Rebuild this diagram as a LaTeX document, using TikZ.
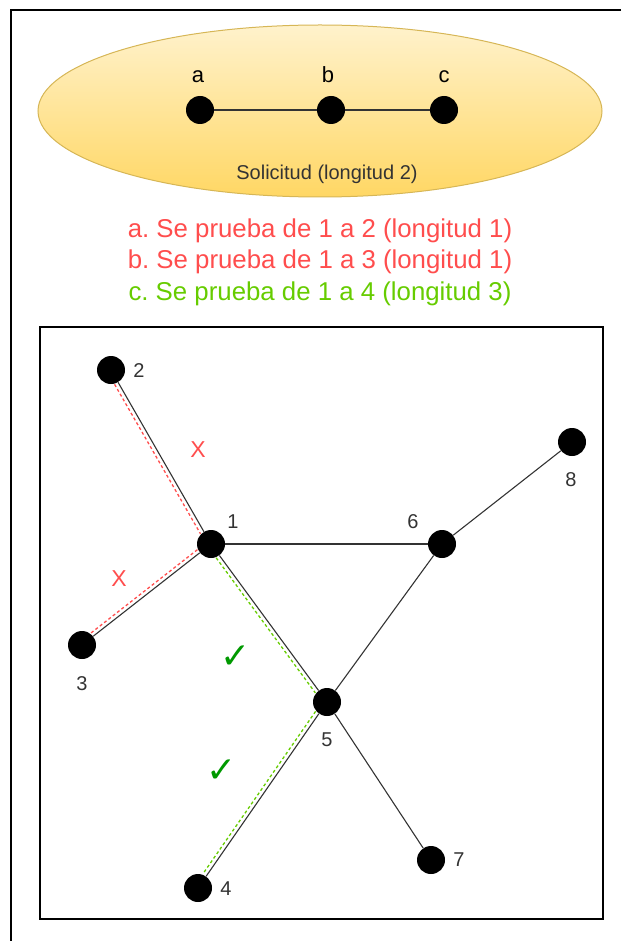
\documentclass[tikz,border=0pt]{standalone}
\usepackage{fontspec}
\setmainfont{Liberation Sans}
\newfontfamily\symfont{DejaVu Sans}
\usetikzlibrary{shapes.geometric}
\frenchspacing
\definecolor{tryred}{RGB}{255,77,77}
\definecolor{trygreen}{RGB}{102,204,0}
\definecolor{okgreen}{RGB}{0,153,0}
\definecolor{reqtop}{RGB}{255,242,204}
\definecolor{reqbottom}{RGB}{255,215,100}
\definecolor{reqline}{RGB}{214,182,86}
\definecolor{edgegray}{RGB}{51,51,51}

\begin{document}
\begin{tikzpicture}[x=1pt,y=-1pt,
  dot/.style={circle,fill=black,minimum size=28pt,inner sep=0pt},
  num/.style={font=\fontsize{20}{24}\selectfont,text=edgegray,inner sep=0pt},
  abc/.style={font=\fontsize{22}{26}\selectfont,inner sep=0pt,anchor=base},
  tryline/.style={font=\fontsize{25.8}{31}\selectfont,inner sep=0pt},
  link/.style={draw=edgegray,line width=1.1pt},
  trydash/.style={line width=1.3pt,dash pattern=on 3pt off 2.5pt},
  failmark/.style={font=\fontsize{23}{27}\selectfont,text=tryred,inner sep=0pt},
  okmark/.style={font=\symfont\fontsize{36}{40}\selectfont,text=okgreen,inner sep=0pt}]
\useasboundingbox (0,0) rectangle (621,941);
\draw[line width=2pt] (621,10) -| (11,941);

\node[draw=reqline,line width=1pt,ellipse,top color=reqtop,bottom color=reqbottom,minimum width=564pt,minimum height=172pt,inner sep=0pt] (req) at (320,111) {};
\node[dot] (a) at (200,110) {};
\node[dot] (b) at (331,110) {};
\node[dot] (c) at (444,110) {};
\node[abc] (la) at (198,83) {a};
\node[abc] (lb) at (328,83) {b};
\node[abc] (lc) at (444,83) {c};
\draw[link] (a)--(b);
\draw[link] (b)--(c);
\node[font=\fontsize{20}{24}\selectfont,text=edgegray,inner sep=0pt] (reqtext) at (327,174) {Solicitud (longitud 2)};

\node[tryline,text=tryred] (try1) at (320,231) {a. Se prueba de 1 a 2 (longitud 1)};
\node[tryline,text=tryred] (try2) at (320,262) {b. Se prueba de 1 a 3 (longitud 1)};
\node[tryline,text=trygreen] (try3) at (320,294) {c. Se prueba de 1 a 4 (longitud 3)};

\draw[line width=1.5pt] (40,327) rectangle (603,919);
\node[dot] (n1) at (211,544) {};
\node[dot] (n2) at (111,370) {};
\node[dot] (n3) at (82,645) {};
\node[dot] (n4) at (198,888) {};
\node[dot] (n5) at (327,702) {};
\node[dot] (n6) at (442,544) {};
\node[dot] (n7) at (431,860) {};
\node[dot] (n8) at (572,442) {};
\node[num] (l1) at (233,522) {1};
\node[num] (l2) at (139,371) {2};
\node[num] (l3) at (82,684) {3};
\node[num] (l4) at (226,889) {4};
\node[num] (l5) at (327,740) {5};
\node[num] (l6) at (413,522) {6};
\node[num] (l7) at (459,860) {7};
\node[num] (l8) at (571,480) {8};
\draw[link] (n2)--(n1);
\draw[link] (n1)--(n3);
\draw[link] (n1)--(n6);
\draw[link] (n1)--(n5);
\draw[link] (n6)--(n5);
\draw[link] (n6)--(n8);
\draw[link] (n5)--(n4);
\draw[link] (n5)--(n7);
\draw[trydash,tryred,transform canvas={shift={(-3.5pt,-2pt)}}] (n2)--(n1);
\draw[trydash,tryred,transform canvas={shift={(-2.4pt,3.1pt)}}] (n1)--(n3);
\draw[trydash,trygreen,transform canvas={shift={(-3.2pt,-2.4pt)}}] (n1)--(n5);
\draw[trydash,trygreen,transform canvas={shift={(-3.3pt,2.3pt)}}] (n5)--(n4);
\node[failmark] (x1) at (198,450) {X};
\node[failmark] (x2) at (119,579) {X};
\node[okmark] (ok1) at (236,657) {✓};
\node[okmark] (ok2) at (222,771) {✓};
\end{tikzpicture}
\end{document}
